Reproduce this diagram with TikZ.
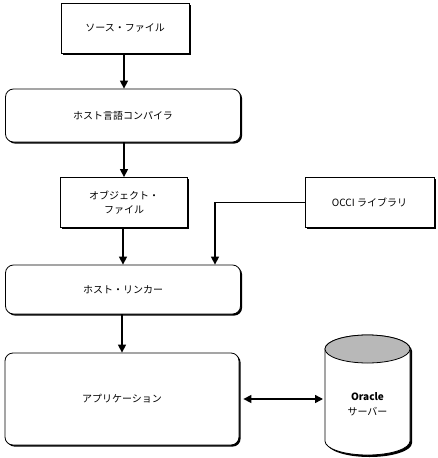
\documentclass[tikz,border=0pt]{standalone}
\usepackage{fontspec}
\setmainfont{Noto Sans CJK JP}
\usetikzlibrary{arrows.meta,shadows,calc}
\begin{document}
\begin{tikzpicture}[x=1pt,y=-1pt,
  font=\fontsize{10}{14.5}\selectfont,
  shad/.style={drop shadow={shadow xshift=1.6pt,shadow yshift=-1.6pt,opacity=1,fill=black}},
  sqbox/.style={draw=black,line width=0.8pt,fill=white,shad,inner sep=0pt,align=center},
  rndbox/.style={sqbox,rounded corners=8pt},
  arr/.style={line width=1.4pt,-{Triangle[length=8pt,width=8pt]}},
  darr/.style={line width=1.4pt,{Triangle[length=8pt,width=8pt]}-{Triangle[length=8pt,width=8pt]}}
]
\useasboundingbox (0,0) rectangle (438,458);

\node[sqbox,minimum width=128pt,minimum height=50pt] (src) at (125,28) {ソース・ファイル};
\node[rndbox,minimum width=235pt,minimum height=53pt] (comp) at (123,115.5) {ホスト言語コンパイラ};
\node[sqbox,minimum width=127pt,minimum height=50pt] (obj) at (124,202.5) {オブジェクト・\\ファイル};
\node[sqbox,minimum width=129pt,minimum height=50pt] (occi) at (369.5,202.5) {OCCI ライブラリ};
\node[rndbox,minimum width=235pt,minimum height=49pt] (link) at (123,289.5) {ホスト・リンカー};
\node[rndbox,minimum width=234pt,minimum height=92pt] (app) at (122,399) {アプリケーション};

% cylinder
\coordinate (cyl) at (367.5,404);
\fill[black] (327,351) -- (327,443) arc[start angle=180,end angle=0,x radius=42.5,y radius=14] -- (412,351) arc[start angle=0,end angle=-180,x radius=42.5,y radius=14] -- cycle;
\filldraw[fill=white,draw=black,line width=0.8pt] (325,349) -- (325,441) arc[start angle=180,end angle=0,x radius=42.5,y radius=14] -- (410,349) arc[start angle=0,end angle=-180,x radius=42.5,y radius=14] -- cycle;
\filldraw[fill=black!28,draw=black,line width=0.8pt] (367.5,349) ellipse[x radius=42.5,y radius=14];
\node[align=center,inner sep=0pt] (srv) at (cyl) {\textbf{Oracle}\\サーバー};

\draw[arr] (src.south -| 124,0) -- (comp.north -| 124,0);
\draw[arr] (comp.south -| 124,0) -- (obj.north -| 124,0);
\draw[arr] (obj.south -| 123,0) -- (link.north -| 123,0);
\draw[arr] (occi.west) -| ([xshift=215pt-123pt]link.north);
\draw[arr] (link.south -| 122,0) -- (app.north -| 122,0);
\coordinate (cylw) at (323,399);
\draw[darr] ([xshift=4pt]app.east) -- (cylw);
\end{tikzpicture}
\end{document}
